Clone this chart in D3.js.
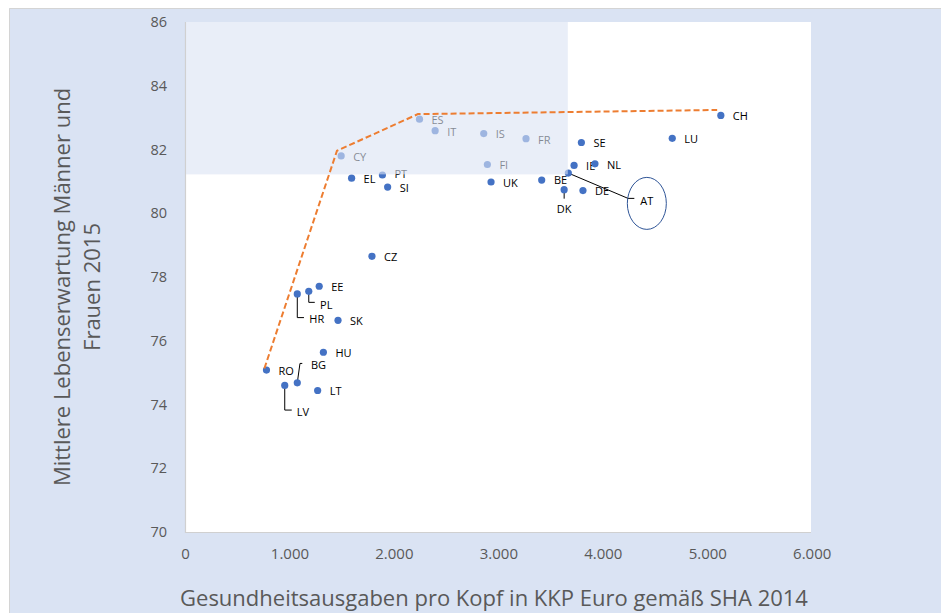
<!DOCTYPE html>
<html><head><meta charset="utf-8">
<script src="https://cdn.jsdelivr.net/npm/d3@7"></script>
<style>body{margin:0;background:#fff;}svg{display:block;font-family:"Open Sans",sans-serif;}</style>
</head><body><svg id="c" width="941" height="613"></svg>
<script>
// ---- data ----
const countries = ["CH","LU","ES","IT","IS","FR","SE","CY","FI","IE","NL","AT","PT","EL","BE","UK","SI","DK","DE","CZ","EE","PL","HR","SK","HU","RO","BG","LV","LT"];
const spending  = [5130,4665,2245,2395,2860,3265,3795,1495,2895,3725,3925,3670,1890,1595,3415,2930,1940,3630,3810,1790,1285,1185,1075,1465,1325,780,1075,955,1270];
const lifeExp   = [83.07,82.35,82.95,82.59,82.50,82.34,82.22,81.80,81.53,81.50,81.55,81.26,81.20,81.10,81.04,80.98,80.82,80.74,80.71,78.65,77.71,77.55,77.47,76.64,75.64,75.08,74.68,74.60,74.44];
const frontierX = [760, 1455, 2230, 5095];
const frontierY = [75.13, 81.96, 83.11, 83.24];
const shadeX = [0, 3665];
const shadeY = [81.22, 86];
const xTicks = [0,1000,2000,3000,4000,5000,6000];
const yTicks = [70,72,74,76,78,80,82,84,86];
const xTitle = "Gesundheitsausgaben pro Kopf in KKP Euro gemäß SHA 2014";
const yTitle = ["Mittlere Lebenserwartung Männer und", "Frauen 2015"];

// label placement (pixel offsets from point); leader = polyline offsets
const labelPlace = {
  DK:{dx:0,dy:19.5,anchor:"middle",leader:[[0,0],[0,9]]},
  HR:{dx:12,dy:25.5,leader:[[0,0],[0,23.7],[6.7,23.7]]},
  PL:{dx:11.3,dy:14,leader:[[0,0],[0,11],[6,11]]},
  LV:{dx:12,dy:27,leader:[[0,0],[0,24.7],[7,24.7]]},
  BG:{dx:13.7,dy:-17.4,leader:[[0,0],[2.7,-19.4],[5,-19.4]]},
  AT:{dx:72,dy:28.3,leader:[[0,0],[59.7,25.3],[66,25.3]],ellipse:{cx:78.5,cy:30.3,rx:19.5,ry:26}},
  BE:{dx:12.3,dy:0.3},
  PT:{dx:12,dy:-0.5},
  SI:{dx:12,dy:1.5}
};

// ---- layout ----
const svg = d3.select("#c");
svg.append("rect").attr("x",9).attr("y",8).attr("width",932).attr("height",605)
  .attr("fill","#dae3f3");
svg.append("path").attr("d","M9.5,613V8.5H941").attr("fill","none").attr("stroke","#d4d4d4").attr("stroke-width",1);

const L=185, R=811, T=22, B=532;
const x = d3.scaleLinear().domain([0,6000]).range([L, L + 6000*0.10445]);
const y = d3.scaleLinear().domain([70,86]).range([B,T]);

svg.append("rect").attr("x",L).attr("y",T).attr("width",R-L).attr("height",B-T).attr("fill","#fff");

const fmt = d => d3.format(",")(d).replace(/,/g,".");
const tickCol = "#595959";

// x axis
const xa = svg.append("g").attr("transform",`translate(0,${B})`)
  .call(d3.axisBottom(x).tickValues(xTicks).tickFormat(fmt).tickSize(0).tickPadding(16));
xa.select(".domain").remove();
xa.selectAll("text").attr("fill",tickCol).style("font-size","15px").style("font-family","Open Sans");
// y axis
const ya = svg.append("g").attr("transform",`translate(${L},0)`)
  .call(d3.axisLeft(y).tickValues(yTicks).tickSize(0).tickPadding(18));
ya.select(".domain").remove();
ya.selectAll("text").attr("fill",tickCol).style("font-size","14.5px").style("font-family","Open Sans");

// axis borders
svg.append("path").attr("d",`M${L+0.5},${T}V${B+0.5}H${R}`).attr("fill","none").attr("stroke","#d0d0d0").attr("stroke-width",1.2);

// points & labels
const data = countries.map((c,i)=>({c, x:spending[i], y:lifeExp[i]}));
const g = svg.append("g");
data.forEach(d=>{
  const px=x(d.x), py=y(d.y);
  const p = labelPlace[d.c] || {dx:12, dy:1};
  if(p.leader){
    g.append("polyline").attr("points",p.leader.map(o=>[px+o[0],py+o[1]].join(",")).join(" "))
      .attr("fill","none").attr("stroke","#000").attr("stroke-width",1);
  }
  if(p.ellipse){
    g.append("ellipse").attr("cx",px+p.ellipse.cx).attr("cy",py+p.ellipse.cy)
      .attr("rx",p.ellipse.rx).attr("ry",p.ellipse.ry).attr("fill","none").attr("stroke","#2f5597").attr("stroke-width",1);
  }
  g.append("circle").attr("cx",px).attr("cy",py).attr("r",3.6).attr("fill","#4472c4");
  g.append("text").attr("x",px+p.dx).attr("y",py+p.dy).attr("dy","0.35em")
    .attr("text-anchor",p.anchor||"start").attr("fill","#000")
    .style("font-size","11px").text(d.c);
});

// shaded overlay
svg.append("rect").attr("x",x(shadeX[0])+1).attr("y",y(shadeY[1]))
  .attr("width",x(shadeX[1])-x(shadeX[0])-1).attr("height",y(shadeY[0])-y(shadeY[1]))
  .attr("fill","#dae3f3").attr("fill-opacity",0.6);

// frontier line
const line = d3.line().x((d,i)=>x(frontierX[i])).y((d,i)=>y(frontierY[i]));
svg.append("path").datum(frontierX).attr("d",line).attr("fill","none")
  .attr("stroke","#ed7d31").attr("stroke-width",2).attr("stroke-dasharray","6,3");

// titles
svg.append("text").attr("x",494).attr("y",606).attr("text-anchor","middle")
  .attr("fill",tickCol).style("font-size","22px").text(xTitle);
const yt = svg.append("text").attr("transform","translate(62,287) rotate(-90)").attr("text-anchor","middle")
  .attr("fill",tickCol).style("font-size","22px");
yTitle.forEach((t,i)=>yt.append("tspan").attr("x",0).attr("y",i*30).attr("dy","0.35em").text(t));
</script></body></html>
